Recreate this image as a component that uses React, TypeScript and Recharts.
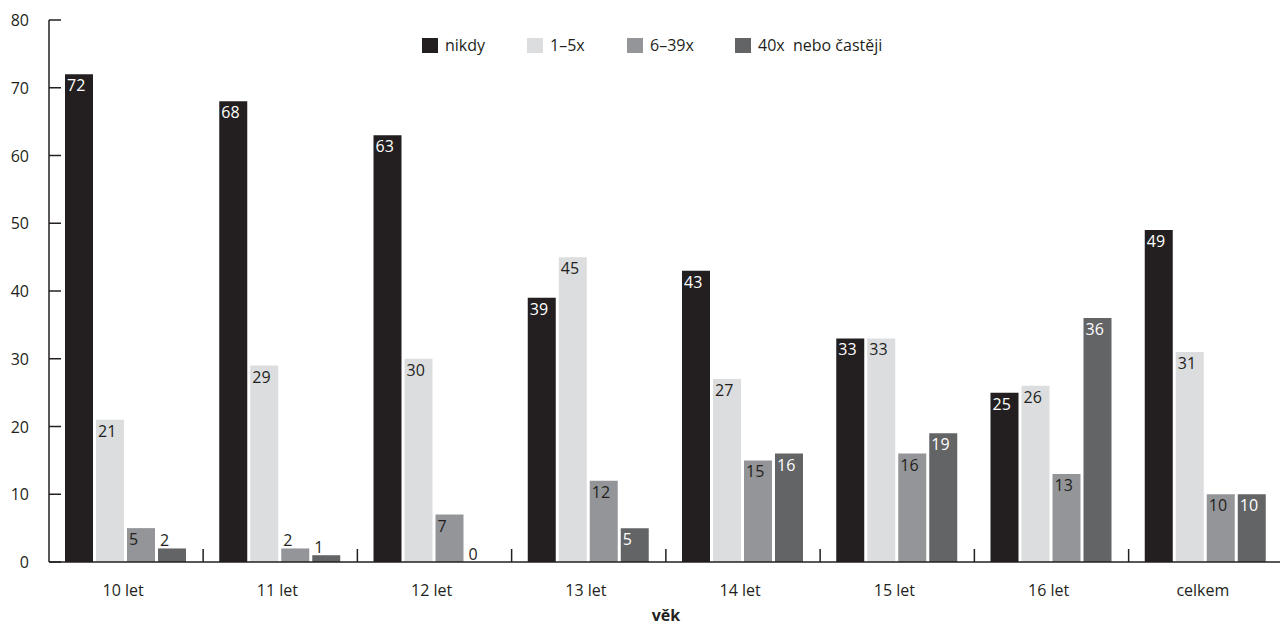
import { Bar, BarChart, LabelList, XAxis, YAxis } from "recharts";

const categories = ["10 let", "11 let", "12 let", "13 let", "14 let", "15 let", "16 let", "celkem"];
const nikdy = [72, 68, 63, 39, 43, 33, 25, 49];
const jednouAzPet = [21, 29, 30, 45, 27, 33, 26, 31];
const sestAz39 = [5, 2, 7, 12, 15, 16, 13, 10];
const ctyricetVice = [2, 1, 0, 5, 16, 19, 36, 10];
const seriesNames = ["nikdy", "1–5x", "6–39x", "40x  nebo častěji"];
const yTicks = [0, 10, 20, 30, 40, 50, 60, 70, 80];

const FONT = "'Open Sans', 'Noto Sans', sans-serif";
const INK = "#231f20";
const COLORS = ["#231f20", "#dcdddf", "#939598", "#636466"];
const INSIDE_LABEL = ["#ffffff", INK, INK, "#ffffff"];
const LEGEND_WIDTHS = [105, 100, 108, 180];
const FONT_SIZE = 16;

const data = categories.map((kategorie, i) => ({
  kategorie,
  s0: nikdy[i],
  s1: jednouAzPet[i],
  s2: sestAz39[i],
  s3: ctyricetVice[i],
}));

// bar value label: inside top-left when the bar is tall enough, otherwise just above it
function makeValueLabel(seriesIndex: number) {
  return function ValueLabel(props: any) {
    const { x, y, height, value } = props;
    if (x == null || y == null) return null;
    const inside = height >= 18;
    return (
      <text
        x={x + 2}
        y={inside ? y + 17 : y - 2}
        fill={inside ? INSIDE_LABEL[seriesIndex] : INK}
        fontSize={FONT_SIZE}
        fontFamily={FONT}
      >
        {value}
      </text>
    );
  };
}

function YTick(props: any) {
  const { x, y, payload } = props;
  return (
    <g>
      <line x1={x} x2={x + 12} y1={y} y2={y} stroke={INK} strokeWidth={1.5} />
      <text x={x - 20} y={y + 6} textAnchor="end" fill={INK} fontSize={FONT_SIZE} fontFamily={FONT}>
        {payload.value}
      </text>
    </g>
  );
}

function XTick(props: any) {
  const { x, y, payload, index, visibleTicksCount } = props;
  const half = 77;
  return (
    <g>
      {index < visibleTicksCount - 1 && (
        <line x1={x + half} x2={x + half} y1={y} y2={y - 13} stroke={INK} strokeWidth={1.5} />
      )}
      <text x={x - 3} y={y + 34} textAnchor="middle" fill={INK} fontSize={FONT_SIZE} fontFamily={FONT}>
        {payload.value}
      </text>
    </g>
  );
}

function ChartLegend() {
  return (
    <div
      style={{
        position: "absolute",
        top: 36,
        left: 422,
        display: "flex",
        fontFamily: FONT,
        fontSize: FONT_SIZE,
        color: INK,
        lineHeight: "18px",
      }}
    >
      {seriesNames.map((name, i) => (
        <div key={name} style={{ display: "flex", alignItems: "center", width: LEGEND_WIDTHS[i] }}>
          <span style={{ display: "inline-block", width: 16, height: 15, background: COLORS[i], marginRight: 7 }} />
          <span style={{ whiteSpace: "pre" }}>{name}</span>
        </div>
      ))}
    </div>
  );
}

export default function App() {
  const keys = ["s0", "s1", "s2", "s3"];
  return (
    <div style={{ position: "absolute", left: 0, top: 0, width: 1280, height: 628, background: "#fff", overflow: "hidden" }}>
      <BarChart
        width={1280}
        height={628}
        data={data}
        margin={{ top: 20, right: -3, left: 0, bottom: 2 }}
        barCategoryGap={16}
        barGap={3}
      >
        <XAxis
          dataKey="kategorie"
          interval={0}
          height={64}
          tickSize={0}
          tickMargin={0}
          tickLine={false}
          axisLine={{ stroke: INK, strokeWidth: 1.5 }}
          tick={<XTick />}
          label={{
            value: "věk",
            position: "insideBottom",
            offset: 5,
            fill: INK,
            fontWeight: 700,
            fontSize: FONT_SIZE,
            fontFamily: FONT,
          }}
        />
        <YAxis
          width={49}
          domain={[0, 80]}
          ticks={yTicks}
          interval={0}
          tickSize={0}
          tickMargin={0}
          tickLine={false}
          axisLine={{ stroke: INK, strokeWidth: 1.5 }}
          tick={<YTick />}
        />
        {keys.map((key, i) => (
          <Bar
            key={key}
            dataKey={key}
            name={seriesNames[i]}
            fill={COLORS[i]}
            minPointSize={(v: number) => (v === 0 ? 0.01 : 0)}
            isAnimationActive={false}
          >
            <LabelList dataKey={key} content={makeValueLabel(i)} />
          </Bar>
        ))}
      </BarChart>
      <ChartLegend />
    </div>
  );
}
